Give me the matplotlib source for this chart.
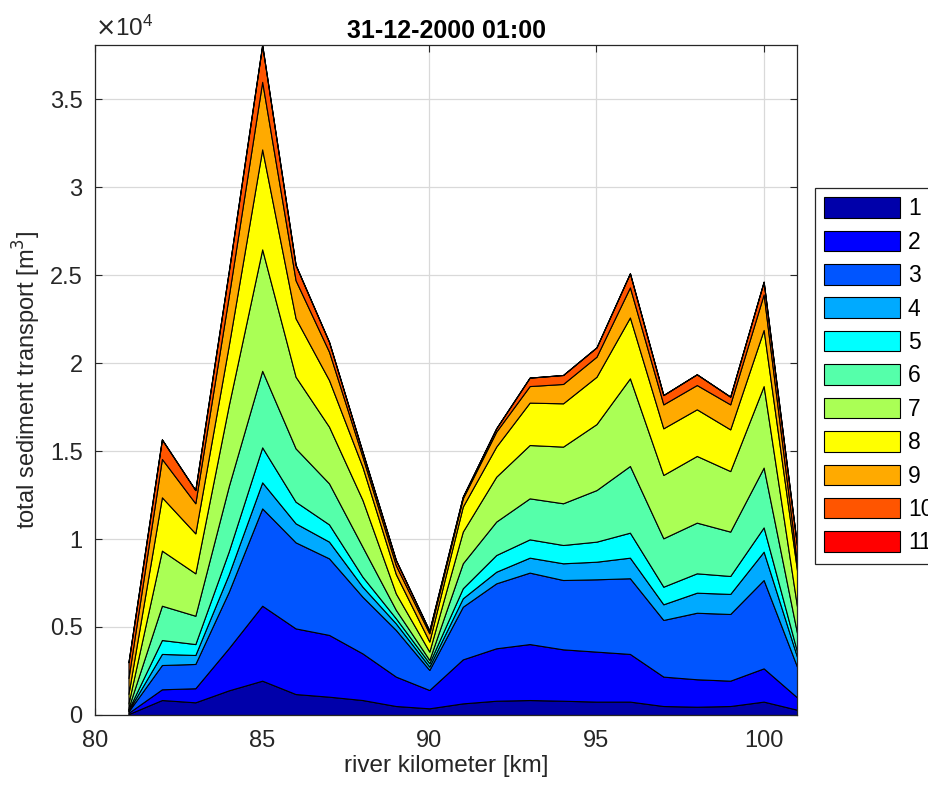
import numpy as np
import matplotlib
matplotlib.use("Agg")
import matplotlib.pyplot as plt
from matplotlib.ticker import FuncFormatter, MultipleLocator

plt.rcParams['font.family'] = ['Liberation Sans', 'DejaVu Sans']

km = [81, 82, 83, 84, 85, 86, 87, 88, 89, 90, 91, 92, 93, 94, 95, 96, 97, 98, 99, 100, 101]

frac1 = [50, 850, 720, 1400, 1950, 1190, 1040, 850, 510, 380, 660, 810, 850, 810, 760, 760, 510, 470, 510, 760, 300]
frac2 = [70, 610, 800, 2400, 4260, 3730, 3510, 2650, 1670, 1040, 2500, 2980, 3180, 2920, 2840, 2710, 1670, 1560, 1440, 1890, 700]
frac3 = [80, 1380, 1380, 3200, 5530, 4890, 4350, 3220, 2650, 1140, 2990, 3690, 4060, 3940, 4110, 4300, 3220, 3780, 3790, 5020, 1740]
frac4 = [50, 630, 510, 1000, 1480, 1080, 950, 570, 370, 190, 480, 660, 850, 950, 1000, 1170, 890, 1140, 1140, 1610, 560]
frac5 = [50, 790, 620, 1300, 1990, 1230, 980, 570, 290, 190, 570, 950, 1040, 1040, 1140, 1420, 1000, 1100, 1020, 1380, 300]
frac6 = [100, 1950, 1610, 3700, 4350, 3030, 2330, 1700, 480, 190, 1420, 1900, 2330, 2370, 2930, 3790, 2750, 2880, 2520, 3400, 1050]
frac7 = [260, 3130, 2410, 4600, 6900, 4070, 3220, 2660, 930, 470, 1800, 2550, 3030, 3220, 3750, 4980, 3600, 3790, 3440, 4630, 1500]
frac8 = [540, 3030, 2270, 3400, 5680, 3320, 2650, 1880, 1100, 570, 1420, 1710, 2410, 2460, 2690, 3460, 2650, 2650, 2370, 3190, 2050]
frac9 = [900, 2180, 1710, 2800, 3840, 2160, 1610, 580, 500, 470, 470, 850, 940, 1100, 1140, 1710, 1360, 1380, 1420, 2020, 400]
frac10 = [900, 1110, 750, 1400, 2090, 870, 560, 280, 300, 150, 90, 190, 480, 510, 530, 800, 530, 610, 440, 720, 1000]
frac11 = [0, 0, 0, 0, 0, 0, 0, 0, 0, 0, 0, 0, 0, 0, 0, 0, 0, 0, 0, 0, 0]

labels = ['1', '2', '3', '4', '5', '6', '7', '8', '9', '10', '11']
title = '31-12-2000 01:00'

colors = [(0, 0, 0.6667), (0, 0, 1), (0, 0.3333, 1), (0, 0.6667, 1), (0, 1, 1),
          (0.3333, 1, 0.6667), (0.6667, 1, 0.3333), (1, 1, 0), (1, 0.6667, 0),
          (1, 0.3333, 0), (1, 0, 0)]

layers = [frac1, frac2, frac3, frac4, frac5, frac6, frac7, frac8, frac9, frac10, frac11]

fig = plt.figure(figsize=(9.29, 7.87), dpi=100)
ax = fig.add_axes([0.1023, 0.0915, 0.7557, 0.8513])

polys = ax.stackplot(km, *layers, colors=colors, labels=labels,
                     edgecolor='black', linewidth=0.8)

total = np.sum(np.array(layers), axis=0)
ax.set_xlim(80, 101)
ax.set_ylim(0, total.max())

ax.xaxis.set_major_locator(MultipleLocator(5))
ax.yaxis.set_major_locator(MultipleLocator(5000))
ax.yaxis.set_major_formatter(FuncFormatter(lambda v, p: '%g' % (v / 1e4)))

ax.grid(True, color='#d9d9d9', linewidth=0.9)
ax.set_axisbelow(True)
ax.tick_params(direction='in', top=True, right=True, labelsize=17, length=5,
               width=0.8, color='#262626', labelcolor='#262626')
ax.tick_params(axis='x', pad=11)
ax.tick_params(axis='y', pad=9)
for s in ax.spines.values():
    s.set_color('#262626')
    s.set_linewidth(0.9)

ax.set_xlabel('river kilometer [km]', fontsize=17.5, color='#262626', labelpad=2)
ax.set_ylabel('total sediment transport [m$^3$]', fontsize=17, color='#262626', labelpad=5)
ax.set_title(title, fontsize=18, fontweight='bold', pad=5)

ax.text(0.0, 1.006, r'$\times\mathregular{10^4}$', transform=ax.transAxes,
        fontsize=17.5, color='#262626', ha='left', va='bottom')

leg = ax.legend(loc='upper left', bbox_to_anchor=(0.8773, 0.7611),
                bbox_transform=fig.transFigure, fontsize=16.5, frameon=True,
                fancybox=False, edgecolor='#262626', framealpha=1,
                handlelength=3.3, handleheight=1.0, handletextpad=0.35,
                labelspacing=0.45, borderpad=0.4, borderaxespad=0)
leg.get_frame().set_linewidth(0.9)

fig.savefig('out.png', dpi=100)
